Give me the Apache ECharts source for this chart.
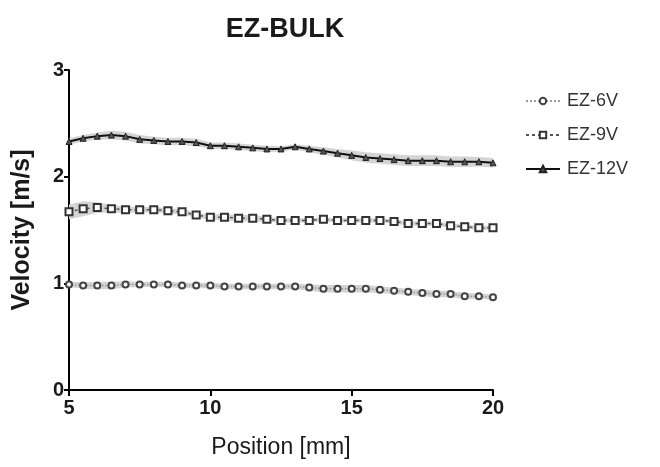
<!DOCTYPE html>
<html>
<head>
<meta charset="utf-8">
<script src="https://cdn.jsdelivr.net/npm/echarts@6/dist/echarts.min.js"></script>
<style>
  html, body { margin: 0; padding: 0; background: #fff; }
  #chart { width: 660px; height: 467px; }
</style>
</head>
<body>
<div id="chart"></div>
<script>
// position along the channel [mm]
const positions = [5, 5.5, 6, 6.5, 7, 7.5, 8, 8.5, 9, 9.5, 10, 10.5, 11, 11.5, 12, 12.5,
    13, 13.5, 14, 14.5, 15, 15.5, 16, 16.5, 17, 17.5, 18, 18.5, 19, 19.5, 20];

// mean velocity [m/s]
const ez6 = [0.99, 0.98, 0.98, 0.98, 0.99, 0.99, 0.99, 0.99, 0.98, 0.98, 0.98, 0.97, 0.97, 0.97, 0.97, 0.97,
    0.97, 0.96, 0.95, 0.95, 0.95, 0.95, 0.94, 0.93, 0.92, 0.91, 0.90, 0.90, 0.88, 0.88, 0.87];
const ez9 = [1.67, 1.70, 1.71, 1.70, 1.69, 1.69, 1.69, 1.68, 1.67, 1.64, 1.62, 1.62, 1.61, 1.61, 1.60, 1.59,
    1.59, 1.59, 1.60, 1.59, 1.59, 1.59, 1.59, 1.58, 1.56, 1.56, 1.56, 1.54, 1.53, 1.52, 1.52];
const ez12 = [2.33, 2.36, 2.38, 2.39, 2.38, 2.35, 2.34, 2.33, 2.33, 2.32, 2.29, 2.29, 2.28, 2.27, 2.26, 2.26,
    2.28, 2.26, 2.24, 2.22, 2.20, 2.18, 2.17, 2.16, 2.15, 2.15, 2.15, 2.14, 2.14, 2.14, 2.13];

// error band half width [m/s]
const err6 = [0.025, 0.03, 0.035, 0.035, 0.03, 0.025, 0.025, 0.025, 0.025, 0.025, 0.025, 0.025, 0.025, 0.025, 0.025, 0.025,
    0.025, 0.03, 0.035, 0.035, 0.035, 0.035, 0.03, 0.03, 0.03, 0.03, 0.03, 0.03, 0.03, 0.025, 0.025];
const err9 = [0.07, 0.07, 0.05, 0.035, 0.03, 0.025, 0.025, 0.025, 0.025, 0.025, 0.025, 0.03, 0.03, 0.03, 0.025, 0.02,
    0.02, 0.02, 0.02, 0.02, 0.02, 0.02, 0.02, 0.02, 0.02, 0.02, 0.02, 0.02, 0.02, 0.02, 0.02];
const err12 = [0.03, 0.03, 0.035, 0.04, 0.04, 0.04, 0.035, 0.035, 0.035, 0.035, 0.03, 0.03, 0.03, 0.03, 0.03, 0.025,
    0.025, 0.03, 0.035, 0.04, 0.045, 0.05, 0.05, 0.05, 0.05, 0.05, 0.05, 0.05, 0.05, 0.045, 0.045];

const xTicks = [5, 10, 15, 20];
const yTicks = [0, 1, 2, 3];

const font = 'Liberation Sans, Arial, sans-serif';
const ink = '#1a1a1a';
const bandColor = '#d4d4d4';

function pairs(vals) {
    return positions.map((x, i) => [x, vals[i]]);
}

// shaded band drawn as one polygon: upper edge then lower edge reversed
function band(key, mean, err) {
    return {
        name: key, type: 'custom', silent: true, z: 1,
        data: [0],
        renderItem: function (params, api) {
            let upper = positions.map((x, i) => api.coord([x, mean[i] + err[i]]));
            let lower = positions.map((x, i) => api.coord([x, mean[i] - err[i]])).reverse();
            return {
                type: 'polygon',
                shape: { points: upper.concat(lower) },
                style: { fill: bandColor, stroke: null }
            };
        }
    };
}

let option = {
    animation: false,
    backgroundColor: '#fff',
    title: {
        text: 'EZ-BULK',
        left: 280, top: 11, textAlign: 'center',
        textStyle: { fontFamily: font, fontSize: 27, fontWeight: 'bold', color: ink }
    },
    legend: {
        orient: 'vertical',
        left: 520, top: 87,
        itemWidth: 34, itemHeight: 8, itemGap: 16,
        data: ['EZ-6V', 'EZ-9V', 'EZ-12V'],
        textStyle: { fontFamily: font, fontSize: 18, color: '#333', lineHeight: 18, padding: [0, 0, 0, 2] }
    },
    grid: { left: 69, right: 167, top: 70, bottom: 77 },
    xAxis: {
        type: 'value', min: xTicks[0], max: xTicks[xTicks.length - 1], interval: 5,
        name: 'Position [mm]', nameLocation: 'middle', nameGap: 46,
        nameTextStyle: { fontFamily: font, fontSize: 23, color: ink },
        axisLine: { show: true, lineStyle: { color: '#000', width: 2 } },
        axisTick: { show: true, length: 6, lineStyle: { color: '#000', width: 2 } },
        axisLabel: { fontFamily: font, fontSize: 20, fontWeight: 'bold', color: ink, margin: 8 },
        splitLine: { show: false }
    },
    yAxis: {
        type: 'value', min: yTicks[0], max: yTicks[yTicks.length - 1], interval: 1,
        name: 'Velocity [m/s]', nameLocation: 'middle', nameGap: 34, nameRotate: 90,
        nameTextStyle: { fontFamily: font, fontSize: 25, fontWeight: 'bold', color: ink },
        axisLine: { show: true, lineStyle: { color: '#000', width: 2 } },
        axisTick: { show: true, length: 5, lineStyle: { color: '#000', width: 2 } },
        axisLabel: { fontFamily: font, fontSize: 20, fontWeight: 'bold', color: ink, margin: 5 },
        splitLine: { show: false }
    },
    series: [
        band('b6', ez6, err6),
        band('b9', ez9, err9),
        band('b12', ez12, err12),
        {
            name: 'EZ-6V', type: 'line', z: 3,
            symbol: 'circle', symbolSize: 6,
            itemStyle: { color: '#fff', borderColor: '#444', borderWidth: 2 },
            lineStyle: { color: '#9a9a9a', width: 1.5, type: 'dotted' },
            data: pairs(ez6)
        },
        {
            name: 'EZ-9V', type: 'line', z: 3,
            symbol: 'rect', symbolSize: 7,
            itemStyle: { color: '#fff', borderColor: '#333', borderWidth: 2 },
            lineStyle: { color: '#555', width: 1.5, type: [3, 3] },
            data: pairs(ez9)
        },
        {
            name: 'EZ-12V', type: 'line', z: 3,
            symbol: 'triangle', symbolSize: 6,
            itemStyle: { color: '#555', borderColor: '#222', borderWidth: 1 },
            lineStyle: { color: '#111', width: 2 },
            data: pairs(ez12)
        }
    ]
};

let chart = echarts.init(document.getElementById('chart'));
chart.setOption(option);
</script>
</body>
</html>
